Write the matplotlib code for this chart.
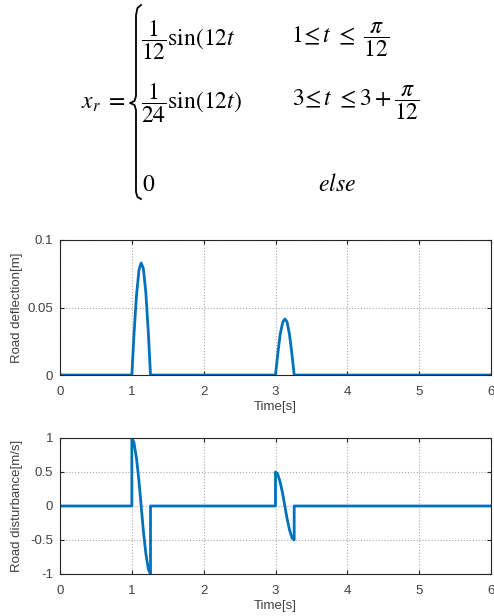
import matplotlib
matplotlib.use('Agg')
import matplotlib.pyplot as plt
from matplotlib.lines import Line2D

# 노면 입력 (deflection / disturbance) 값 - 그림에서 읽음
t_defl = [0, 1.0, 1.03, 1.065, 1.10, 1.13, 1.16, 1.195, 1.23, 1.26,
          3.0, 3.03, 3.065, 3.10, 3.13, 3.16, 3.195, 3.23, 3.26, 6]
defl = [0, 0, 0.030, 0.059, 0.078, 0.083, 0.079, 0.061, 0.031, 0,
        0, 0.015, 0.030, 0.039, 0.0415, 0.0395, 0.030, 0.015, 0, 0]

t_vel = [0, 1.0, 1.0, 1.03, 1.065, 1.10, 1.13, 1.16, 1.195, 1.23, 1.26, 1.26,
         3.0, 3.0, 3.03, 3.065, 3.10, 3.13, 3.16, 3.195, 3.23, 3.26, 3.26, 6]
vel = [0, 0, 1.0, 0.93, 0.70, 0.36, 0.0, -0.36, -0.70, -0.93, -1.0, 0,
       0, 0.5, 0.47, 0.35, 0.18, 0.0, -0.18, -0.35, -0.47, -0.5, 0, 0]

xticks = [0, 1, 2, 3, 4, 5, 6]
xtick_labels = ['0', '1', '2', '3', '4', '5', '6']
yticks1 = [0, 0.05, 0.1]
ytick_labels1 = ['0', '0.05', '0.1']
yticks2 = [-1, -0.5, 0, 0.5, 1]
ytick_labels2 = ['-1', '-0.5', '0', '0.5', '1']

W, H = 494, 616
plt.rcParams['font.family'] = ['Liberation Sans', 'DejaVu Sans']
plt.rcParams['mathtext.fontset'] = 'stix'
plt.rcParams['axes.unicode_minus'] = False

fig = plt.figure(figsize=(W / 100, H / 100), dpi=100)


def px(x, y):
    return x / W, 1 - y / H


# 수식 부분
eq = dict(fontsize=17, color='black', va='center', ha='left')
fig.text(*px(81, 103), r'$x_r\ =$', **eq)
fig.text(*px(141, 40), r'$\dfrac{1}{12}\mathrm{sin}(12t$', **eq)
fig.text(*px(291, 40), r'$1\!\leq t\ \leq\ \dfrac{\pi}{12}$', **eq)
fig.text(*px(141, 103), r'$\dfrac{1}{24}\mathrm{sin}(12t)$', **eq)
fig.text(*px(292, 103), r'$3\!\leq t\ \leq 3+\dfrac{\pi}{12}$', **eq)
fig.text(*px(142, 185), r'$0$', **eq)
fig.text(*px(318, 185), r'$else$', **eq)

# 중괄호
bx = [141, 137.5, 136, 136, 134.5, 130, 134.5, 136, 136, 137.5, 141]
by = [5, 8, 15, 96, 101, 103, 105, 110, 192, 197, 199]
fig.add_artist(Line2D([px(x, 0)[0] for x in bx], [px(0, y)[1] for y in by],
                      color='black', lw=1.3, transform=fig.transFigure))

blue = '#0072BD'
grey = '#262626'
txt = '#404040'


def style(ax, yticks, ylabels, ylim, ylabel):
    ax.set_xlim(0, 6)
    ax.set_ylim(ylim)
    ax.set_xticks(xticks)
    ax.set_xticklabels(xtick_labels)
    ax.set_yticks(yticks)
    ax.set_yticklabels(ylabels)
    ax.tick_params(direction='in', length=3, width=0.8, top=True, right=True,
                   labelsize=9.5, color=grey, labelcolor=txt)
    ax.tick_params(axis='x', pad=8)
    ax.tick_params(axis='y', pad=5)
    ax.grid(True, linestyle=':', color='#a8a8a8', linewidth=0.8)
    for s in ax.spines.values():
        s.set_color(grey)
        s.set_linewidth(0.8)
    ax.set_xlabel('Time[s]', fontsize=9.5, color=txt, labelpad=2)
    ax.set_ylabel(ylabel, fontsize=9.5, color=txt)
    ax.yaxis.set_label_coords(-0.086, 0.5)


ax1 = fig.add_axes([60 / W, 1 - 375 / H, 431 / W, 135 / H])
ax1.plot(t_defl, defl, color=blue, linewidth=2)
style(ax1, yticks1, ytick_labels1, (0, 0.1), 'Road deflection[m]')

ax2 = fig.add_axes([60 / W, 1 - 574 / H, 431 / W, 136 / H])
ax2.plot(t_vel, vel, color=blue, linewidth=2)
style(ax2, yticks2, ytick_labels2, (-1, 1), 'Road disturbance[m/s]')

plt.savefig('out.png', dpi=100)
